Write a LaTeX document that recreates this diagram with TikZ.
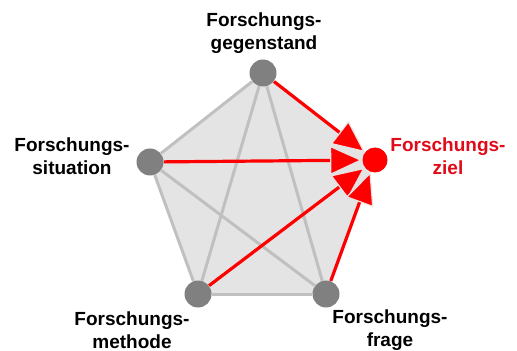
\documentclass[tikz,border=0pt]{standalone}
\usepackage{fontspec}
\setmainfont{Liberation Sans}
\usepackage{xcolor}
\definecolor{knoten}{RGB}{128,128,128}
\definecolor{kantegrau}{RGB}{192,192,192}
\definecolor{flaeche}{RGB}{228,228,228}
\definecolor{naht}{RGB}{235,225,225}
\definecolor{zielrot}{RGB}{225,10,25}
\usetikzlibrary{arrows.meta,backgrounds}

\tikzset{
  punkt/.style={circle,fill=knoten,inner sep=0pt,minimum size=13.5pt},
  zielpunkt/.style={circle,fill=red,inner sep=0pt,minimum size=12.5pt},
  beschr/.style={align=center,font=\bfseries\fontsize{9.5}{11.5}\selectfont},
  verbindung/.style={draw=kantegrau,line width=1.5pt},
  pfeil/.style={draw=red,line width=1.6pt,
    -{Triangle[length=16pt,width=14.5pt,fill=red,color=naht,line width=0.6pt]}},
}

\begin{document}
\begin{tikzpicture}[x=0.5pt,y=-0.5pt]
  \useasboundingbox (0,0) rectangle (517,351);
  % Punkte des Fuenfecks
  \node[punkt] (gg) at (263,73) {};
  \node[punkt] (si) at (150,162) {};
  \node[punkt] (me) at (198,294) {};
  \node[punkt] (fr) at (326,294) {};
  \node[zielpunkt] (zi) at (375,160) {};
  % Beschriftungen
  \node[beschr] (lgg) at (264,33) {Forschungs-\\gegenstand};
  \node[beschr] (lsi) at (72,156) {Forschungs-\\situation};
  \node[beschr,text=zielrot] (lzi) at (448,156) {Forschungs-\\ziel};
  \node[beschr] (lme) at (132,330) {Forschungs-\\methode};
  \node[beschr] (lfr) at (390,330) {Forschungs-\\frage};
  \begin{scope}[on background layer]
    \fill[flaeche] (gg.center) -- (si.center) -- (me.center) -- (fr.center) -- (zi.center) -- cycle;
  \end{scope}
  % graue Kanten
  \draw[verbindung] (gg) -- (si);
  \draw[verbindung] (si) -- (me);
  \draw[verbindung] (me) -- (fr);
  \draw[verbindung] (gg) -- (me);
  \draw[verbindung] (gg) -- (fr);
  \draw[verbindung] (si) -- (fr);
  % rote Pfeile zum Ziel
  \draw[pfeil] (gg) -- (zi);
  \draw[pfeil] (si) -- (zi);
  \draw[pfeil] (me) -- (zi);
  \draw[pfeil] (fr) -- (zi);
\end{tikzpicture}
\end{document}
